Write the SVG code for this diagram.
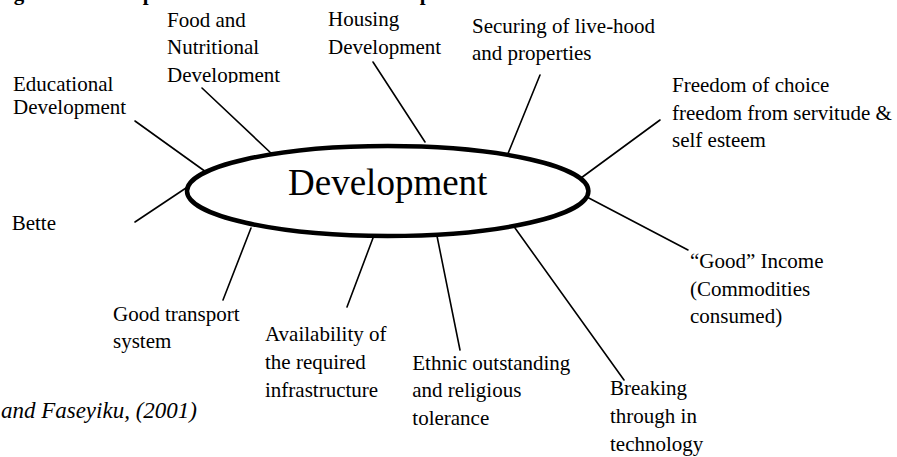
<svg xmlns="http://www.w3.org/2000/svg" width="897" height="457" viewBox="0 0 897 457">
  <style>
    text { font-family: 'Liberation Serif', 'Times New Roman', serif; fill: #000; }
    .lbl { font-size: 21px; }
    .title { font-size: 21px; font-weight: bold; }
    .cite { font-size: 23px; font-style: italic; }
    .hub { font-size: 37px; }
    .spoke { stroke: #000; stroke-width: 1.6; fill: none; stroke-linecap: round; }
  </style>
  <defs>
    <!-- the food label's text frame is shorter than its third line -->
    <clipPath id="foodBox">
      <rect x="150" y="0" width="160" height="83"/>
    </clipPath>
  </defs>
  <rect width="897" height="457" fill="#fff"/>

  <!-- caption line above the figure, mostly cut off by the page edge -->
  <text class="title" x="-5" y="-0.4">Figure 3: Development as an Element of Development: An Illustration</text>

  <!-- spokes from the central ellipse to each factor -->
  <g id="connectors">
    <line class="spoke" x1="135" y1="121" x2="206" y2="172"/>
    <line class="spoke" x1="202" y1="88" x2="273" y2="155"/>
    <line class="spoke" x1="373" y1="62" x2="425" y2="142"/>
    <line class="spoke" x1="540" y1="75" x2="507" y2="156"/>
    <line class="spoke" x1="660" y1="120" x2="581" y2="178"/>
    <line class="spoke" x1="688" y1="250" x2="585" y2="196"/>
    <line class="spoke" x1="624" y1="380" x2="515" y2="228"/>
    <line class="spoke" x1="460" y1="350" x2="437" y2="236"/>
    <line class="spoke" x1="347" y1="307" x2="373" y2="238"/>
    <line class="spoke" x1="223" y1="300" x2="251" y2="228"/>
    <line class="spoke" x1="135" y1="222" x2="189" y2="186"/>
  </g>

  <g id="hub">
    <ellipse cx="387.7" cy="191" rx="200.7" ry="45" fill="#fff" stroke="#000" stroke-width="4.5"/>
    <text class="hub" x="387.7" y="194.5" text-anchor="middle">Development</text>
  </g>

  <g id="educational">
    <text class="lbl" x="13" y="90.5">Educational</text>
    <text class="lbl" x="13" y="114">Development</text>
  </g>

  <g id="food" clip-path="url(#foodBox)">
    <text class="lbl" x="167" y="26.5">Food and</text>
    <text class="lbl" x="167" y="54">Nutritional</text>
    <text class="lbl" x="167" y="81.5">Development</text>
  </g>

  <g id="housing">
    <text class="lbl" x="328" y="26">Housing</text>
    <text class="lbl" x="328" y="53.5">Development</text>
  </g>

  <g id="securing">
    <text class="lbl" x="472" y="33">Securing of live-hood</text>
    <text class="lbl" x="472" y="60">and properties</text>
  </g>

  <g id="freedom">
    <text class="lbl" x="672" y="92.3">Freedom of choice</text>
    <text class="lbl" x="672" y="120">freedom from servitude &amp;</text>
    <text class="lbl" x="672" y="147.3">self esteem</text>
  </g>

  <g id="income">
    <text class="lbl" x="690" y="268.3">“Good” Income</text>
    <text class="lbl" x="690" y="296">(Commodities</text>
    <text class="lbl" x="690" y="323.3">consumed)</text>
  </g>

  <g id="technology">
    <text class="lbl" x="610" y="395">Breaking</text>
    <text class="lbl" x="610" y="422.7">through in</text>
    <text class="lbl" x="610" y="450.7">technology</text>
  </g>

  <g id="ethnic">
    <text class="lbl" x="412.3" y="370">Ethnic outstanding</text>
    <text class="lbl" x="412.3" y="397.3">and religious</text>
    <text class="lbl" x="412.3" y="425">tolerance</text>
  </g>

  <g id="infrastructure">
    <text class="lbl" x="265" y="340.7">Availability of</text>
    <text class="lbl" x="265" y="369.3">the required</text>
    <text class="lbl" x="265" y="396.7">infrastructure</text>
  </g>

  <g id="transport">
    <text class="lbl" x="113" y="320.7">Good transport</text>
    <text class="lbl" x="113" y="348.3">system</text>
  </g>

  <g id="bette">
    <text class="lbl" x="11.7" y="230">Bette</text>
  </g>

  <text class="cite" x="197" y="418.3" text-anchor="end">and Faseyiku, (2001)</text>
</svg>
